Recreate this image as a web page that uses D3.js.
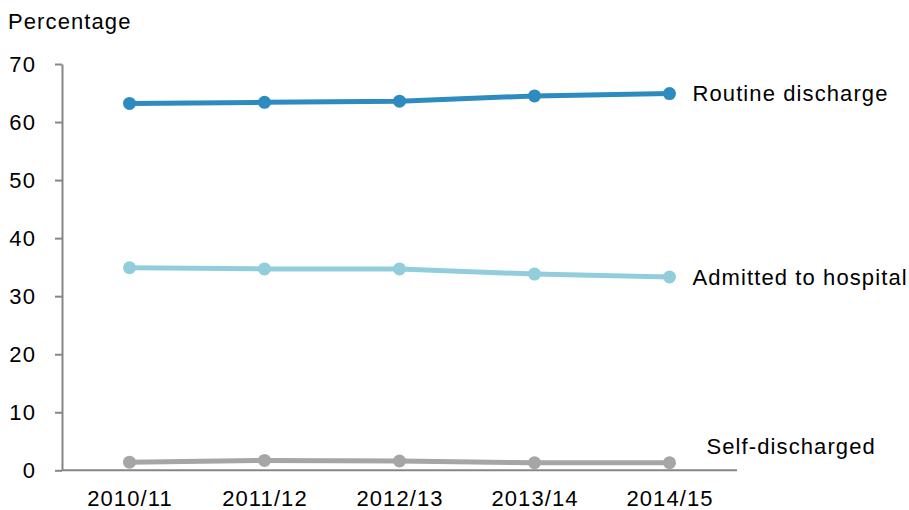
<!DOCTYPE html>
<html>
<head>
<meta charset="utf-8">
<script src="https://cdn.jsdelivr.net/npm/d3@7"></script>
<style>
  html, body { margin: 0; padding: 0; background: #fff; }
  svg text { font-family: "Liberation Sans", Arial, sans-serif; fill: #000; }
</style>
</head>
<body>
<svg id="chart" width="909" height="510"></svg>
<script>
// Financial years on the x axis
const years = ["2010/11", "2011/12", "2012/13", "2013/14", "2014/15"];

// Share of separations by mode of separation (%)
const routineDischarge = [63.2, 63.4, 63.6, 64.5, 64.9];
const admittedToHospital = [34.9, 34.7, 34.7, 33.8, 33.3];
const selfDischarged = [1.4, 1.7, 1.6, 1.3, 1.3];

const yTicks = [0, 10, 20, 30, 40, 50, 60, 70];

const series = [
  { name: "Routine discharge", values: routineDischarge, color: "#2E8BC0", dx: 23, dy: 0 },
  { name: "Admitted to hospital", values: admittedToHospital, color: "#92CDDC", dx: 23, dy: 0 },
  { name: "Self-discharged", values: selfDischarged, color: "#A6A6A6", dx: 37, dy: -16 }
];

const svg = d3.select("#chart");
const plotLeft = 62, plotRight = 737, plotTop = 64, plotBottom = 470.3;

const x = d3.scalePoint().domain(years).range([plotLeft, plotRight]).padding(0.5);
const y = d3.scaleLinear().domain([0, 70]).range([plotBottom, plotTop]);

const fontSize = "22px";
const spacing = "1.1px";

// Y axis
const yAxis = svg.append("g")
  .attr("transform", `translate(${plotLeft},0)`)
  .call(d3.axisLeft(y).tickValues(yTicks).tickSize(7).tickPadding(19).tickSizeOuter(0));
yAxis.select(".domain").attr("stroke", "#868686").attr("stroke-width", 2);
yAxis.selectAll(".tick line").attr("stroke", "#868686").attr("stroke-width", 2);
yAxis.selectAll(".tick text")
  .style("font-size", fontSize).style("letter-spacing", spacing)
  .attr("font-family", null);

// X axis
const xAxis = svg.append("g")
  .attr("transform", `translate(0,${plotBottom})`)
  .call(d3.axisBottom(x).tickSize(0).tickPadding(20).tickSizeOuter(0));
xAxis.select(".domain").attr("stroke", "#868686").attr("stroke-width", 2)
  .attr("d", `M${plotLeft},0H${plotRight}`);
xAxis.selectAll(".tick text")
  .style("font-size", fontSize).style("letter-spacing", spacing)
  .attr("font-family", null);

// Axis title
svg.append("text")
  .attr("x", 8).attr("y", 29)
  .style("font-size", fontSize).style("letter-spacing", spacing)
  .text("Percentage");

// Lines, markers and end labels
const line = d3.line()
  .x((d, i) => x(years[i]))
  .y(d => y(d));

series.forEach(s => {
  const g = svg.append("g");
  g.append("path")
    .datum(s.values)
    .attr("fill", "none")
    .attr("stroke", s.color)
    .attr("stroke-width", 5)
    .attr("d", line);
  g.selectAll("circle")
    .data(s.values)
    .join("circle")
    .attr("cx", (d, i) => x(years[i]))
    .attr("cy", d => y(d))
    .attr("r", 6.5)
    .attr("fill", s.color);
  const last = s.values.length - 1;
  g.append("text")
    .attr("x", x(years[last]) + s.dx)
    .attr("y", y(s.values[last]) + s.dy)
    .attr("dy", "0.35em")
    .style("font-size", fontSize).style("letter-spacing", spacing)
    .text(s.name);
});
</script>
</body>
</html>
